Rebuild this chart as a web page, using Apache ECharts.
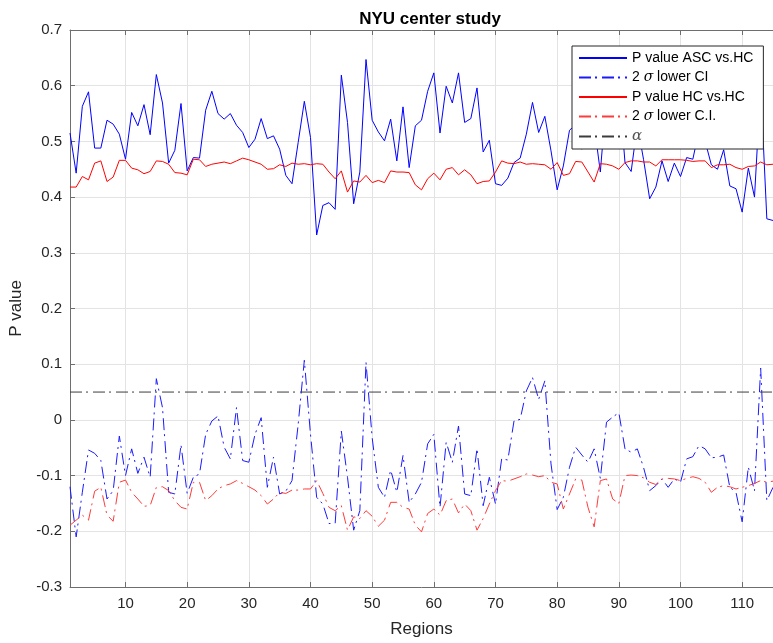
<!DOCTYPE html>
<html>
<head>
<meta charset="utf-8">
<script src="https://cdn.jsdelivr.net/npm/echarts@6/dist/echarts.min.js"></script>
<style>
  html, body { margin: 0; padding: 0; background: #ffffff; }
  #chart { width: 773px; height: 643px; }
</style>
</head>
<body>
<div id="chart"></div>
<script>
// Region index 1..115
const regions = Array.from({ length: 115 }, (_, i) => i + 1);

// P value, ASC vs. HC
const ascP = [
  0.515, 0.443, 0.563, 0.589, 0.488, 0.488, 0.538, 0.531, 0.513, 0.468,
  0.552, 0.528, 0.566, 0.512, 0.620, 0.569, 0.461, 0.484, 0.568, 0.447,
  0.471, 0.470, 0.556, 0.590, 0.550, 0.540, 0.550, 0.529, 0.516, 0.489,
  0.504, 0.541, 0.505, 0.510, 0.486, 0.439, 0.424, 0.498, 0.572, 0.507,
  0.332, 0.385, 0.390, 0.378, 0.619, 0.534, 0.388, 0.445, 0.647, 0.538,
  0.517, 0.501, 0.540, 0.465, 0.562, 0.453, 0.528, 0.538, 0.590, 0.623,
  0.515, 0.599, 0.569, 0.623, 0.534, 0.541, 0.596, 0.481, 0.502, 0.424,
  0.421, 0.434, 0.462, 0.470, 0.513, 0.570, 0.516, 0.545, 0.483, 0.413,
  0.456, 0.520, 0.530, 0.486, 0.510, 0.530, 0.445, 0.580, 0.590, 0.600,
  0.462, 0.446, 0.530, 0.468, 0.397, 0.418, 0.465, 0.428, 0.461, 0.437,
  0.471, 0.468, 0.520, 0.500, 0.458, 0.450, 0.485, 0.420, 0.415, 0.373,
  0.452, 0.400, 0.600, 0.361, 0.358
];

// 2 sigma lower confidence bound, ASC vs. HC
const ascLowerCI = [
  -0.120, -0.210, -0.130, -0.054, -0.060, -0.073, -0.142, -0.127, -0.029, -0.100,
  -0.052, -0.096, -0.067, -0.103, 0.074, 0.022, -0.130, -0.133, -0.045, -0.132,
  -0.103, -0.097, -0.026, -0.002, 0.007, -0.049, -0.070, 0.022, -0.073, -0.076,
  -0.026, 0.004, -0.121, -0.067, -0.133, -0.128, -0.109, -0.008, 0.107, -0.026,
  -0.139, -0.151, -0.186, -0.186, -0.020, -0.103, -0.198, -0.163, 0.103, -0.032,
  -0.121, -0.139, -0.090, -0.130, -0.064, -0.148, -0.133, -0.112, -0.043, -0.026,
  -0.157, -0.040, -0.076, -0.011, -0.133, -0.136, -0.052, -0.154, -0.103, -0.151,
  -0.070, -0.072, -0.002, 0.001, 0.052, 0.076, 0.037, 0.070, -0.079, -0.161,
  -0.139, -0.085, -0.049, -0.063, -0.076, -0.052, -0.105, -0.004, 0.005, 0.013,
  -0.052, -0.058, -0.052, -0.085, -0.127, -0.118, -0.106, -0.121, -0.106, -0.112,
  -0.070, -0.066, -0.046, -0.052, -0.068, -0.067, -0.063, -0.121, -0.130, -0.183,
  -0.085, -0.127, 0.093, -0.145, -0.121
];

// P value, HC vs. HC
const hcP = [
  0.418, 0.418, 0.437, 0.431, 0.461, 0.465, 0.428, 0.436, 0.466, 0.466,
  0.452, 0.449, 0.442, 0.446, 0.465, 0.464, 0.459, 0.444, 0.443, 0.440,
  0.468, 0.467, 0.455, 0.459, 0.461, 0.463, 0.460, 0.465, 0.470, 0.467,
  0.463, 0.459, 0.450, 0.451, 0.458, 0.455, 0.461, 0.459, 0.460, 0.458,
  0.460, 0.459, 0.445, 0.433, 0.447, 0.409, 0.429, 0.427, 0.439, 0.426,
  0.430, 0.426, 0.447, 0.445, 0.445, 0.444, 0.422, 0.413, 0.433, 0.443,
  0.431, 0.450, 0.453, 0.440, 0.449, 0.440, 0.424, 0.428, 0.429, 0.445,
  0.465, 0.461, 0.460, 0.463, 0.459, 0.460, 0.459, 0.458, 0.450, 0.462,
  0.439, 0.442, 0.464, 0.463, 0.445, 0.427, 0.460, 0.459, 0.456, 0.450,
  0.462, 0.465, 0.465, 0.463, 0.463, 0.456, 0.467, 0.467, 0.467, 0.467,
  0.466, 0.464, 0.465, 0.465, 0.453, 0.458, 0.458, 0.459, 0.453, 0.450,
  0.455, 0.456, 0.463, 0.458, 0.459
];

// 2 sigma lower confidence bound, HC vs. HC
const hcLowerCI = [
  -0.189, -0.180, -0.171, -0.180, -0.128, -0.121, -0.171, -0.182, -0.112, -0.108,
  -0.130, -0.142, -0.155, -0.154, -0.121, -0.120, -0.127, -0.145, -0.157, -0.160,
  -0.112, -0.112, -0.145, -0.136, -0.124, -0.118, -0.115, -0.109, -0.114, -0.120,
  -0.126, -0.136, -0.151, -0.142, -0.130, -0.132, -0.126, -0.126, -0.124, -0.124,
  -0.109, -0.132, -0.157, -0.163, -0.154, -0.198, -0.174, -0.177, -0.163, -0.173,
  -0.191, -0.180, -0.148, -0.148, -0.157, -0.160, -0.189, -0.201, -0.168, -0.160,
  -0.171, -0.145, -0.142, -0.167, -0.151, -0.163, -0.198, -0.177, -0.151, -0.127,
  -0.109, -0.110, -0.106, -0.102, -0.097, -0.099, -0.102, -0.100, -0.112, -0.115,
  -0.160, -0.133, -0.106, -0.108, -0.157, -0.192, -0.109, -0.106, -0.142, -0.150,
  -0.100, -0.099, -0.100, -0.104, -0.112, -0.116, -0.106, -0.105, -0.106, -0.109,
  -0.105, -0.102, -0.105, -0.112, -0.130, -0.121, -0.118, -0.120, -0.124, -0.121,
  -0.118, -0.114, -0.109, -0.112, -0.110
];

// Significance level
const ALPHA = 0.05;

// Axis ticks
const xTickValues = [10, 20, 30, 40, 50, 60, 70, 80, 90, 100, 110];
const X_MIN = 1, X_MAX = 115;
const Y_MIN = -0.3, Y_MAX = 0.7, Y_STEP = 0.1;

const FONT = "'Liberation Sans', Arial, Helvetica, sans-serif";
const TEXT = '#262626';
const AXIS = '#6e6e6e';
const GRID = '#e3e3e3';
const DASH_DOT = [12, 4, 2, 5];

const pairs = (vals) => vals.map((v, i) => [regions[i], v]);

const lineSeries = (name, vals, color, dashed) => ({
  name,
  type: 'line',
  data: pairs(vals),
  symbol: 'none',
  showSymbol: false,
  animation: false,
  silent: true,
  lineStyle: { color, width: 1, type: dashed ? DASH_DOT : 'solid' },
  itemStyle: { color }
});

const chart = echarts.init(document.getElementById('chart'), null, { renderer: 'canvas' });

chart.setOption({
  backgroundColor: '#ffffff',
  animation: false,
  textStyle: { fontFamily: FONT },
  title: {
    text: 'NYU center study',
    left: 425,
    top: 6,
    textAlign: 'center',
    textStyle: { fontFamily: FONT, fontSize: 17, fontWeight: 'bold', color: '#000000' }
  },
  grid: { left: 70, right: -2, top: 30, bottom: 52, containLabel: false },
  legend: {
    orient: 'vertical',
    left: 572,
    top: 46,
    padding: [5, 10, 5, 6],
    itemGap: 5.5,
    itemWidth: 48,
    itemHeight: 14,
    itemTextGap: 6,
    backgroundColor: '#ffffff',
    borderColor: '#262626',
    borderWidth: 1,
    borderRadius: 0,
    itemStyle: { opacity: 0 },
    data: ['P value ASC vs.HC', '2 σ lower CI', 'P value HC vs.HC', '2 σ lower C.I.', 'α'],
    formatter: (name) => name === 'α' ? '{a|α}' : name.replace('σ', '{s|σ}'),
    textStyle: {
      fontFamily: FONT, fontSize: 14, color: '#000000',
      rich: {
        s: { fontFamily: "'DejaVu Serif', 'Liberation Serif', serif", fontStyle: 'italic', fontSize: 14, color: '#000000' },
        a: { fontFamily: "'DejaVu Serif', 'Liberation Serif', serif", fontStyle: 'italic', fontSize: 15, color: '#555555' }
      }
    }
  },
  xAxis: [
    {
      type: 'value', min: X_MIN, max: X_MAX, position: 'bottom',
      name: 'Regions', nameLocation: 'middle', nameGap: 34,
      nameTextStyle: { fontFamily: FONT, fontSize: 17, color: TEXT },
      axisLine: { show: true, onZero: false, lineStyle: { color: AXIS, width: 1 } },
      axisTick: { show: true, inside: true, length: 5, customValues: xTickValues, lineStyle: { color: AXIS } },
      axisLabel: { show: true, customValues: xTickValues, margin: 9, fontFamily: FONT, fontSize: 15, color: TEXT },
      splitLine: { show: true, lineStyle: { color: GRID, width: 1 } }
    },
    {
      type: 'value', min: X_MIN, max: X_MAX, position: 'top',
      axisLine: { show: true, onZero: false, lineStyle: { color: AXIS, width: 1 } },
      axisTick: { show: true, inside: true, length: 5, customValues: xTickValues, lineStyle: { color: AXIS } },
      axisLabel: { show: false },
      splitLine: { show: false }
    }
  ],
  yAxis: {
    type: 'value', min: Y_MIN, max: Y_MAX, interval: Y_STEP,
    name: 'P value', nameLocation: 'middle', nameGap: 36,
    nameTextStyle: { fontFamily: FONT, fontSize: 17, color: TEXT },
    axisLine: { show: true, onZero: false, lineStyle: { color: AXIS, width: 1 } },
    axisTick: { show: true, inside: true, length: 5, lineStyle: { color: AXIS } },
    axisLabel: {
      margin: 8, fontFamily: FONT, fontSize: 15, color: TEXT,
      formatter: (v) => {
        const r = Math.round(v * 10) / 10;
        return r === 0 ? '0' : r.toFixed(1);
      }
    },
    splitLine: { show: true, lineStyle: { color: GRID, width: 1 } }
  },
  series: [
    lineSeries('P value ASC vs.HC', ascP, '#0000ff', false),
    lineSeries('2 σ lower CI', ascLowerCI, '#1a1aff', true),
    lineSeries('P value HC vs.HC', hcP, '#ff0000', false),
    lineSeries('2 σ lower C.I.', hcLowerCI, '#ff3b3b', true),
    {
      ...lineSeries('α', [], '#3c3c3c', true),
      // horizontal threshold across the full region range
      data: [[X_MIN, ALPHA], [X_MAX, ALPHA]]
    }
  ]
});
</script>
</body>
</html>
